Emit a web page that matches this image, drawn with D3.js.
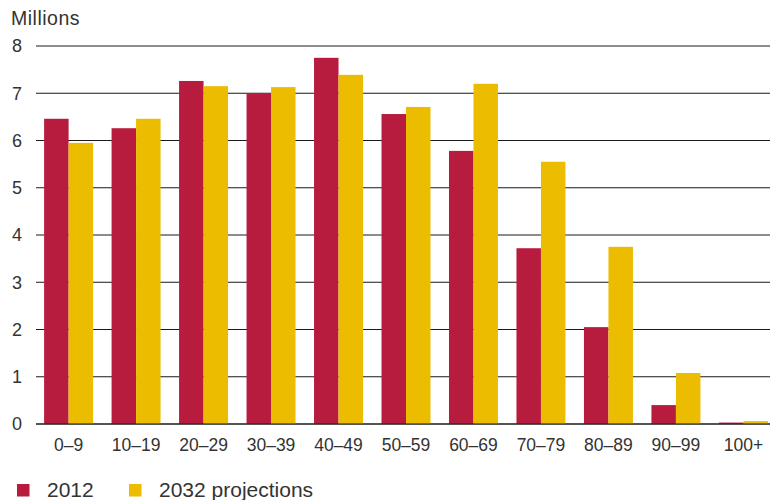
<!DOCTYPE html>
<html><head><meta charset="utf-8">
<script src="https://cdn.jsdelivr.net/npm/d3@7"></script>
<style>
body{margin:0;background:#fff;}
svg{display:block;}
text{font-family:"Liberation Sans",Arial,Helvetica,sans-serif;fill:#333;}
</style></head>
<body>
<svg id="chart" width="770" height="500"></svg>
<script>
const categories = ["0–9","10–19","20–29","30–39","40–49","50–59","60–69","70–79","80–89","90–99","100+"];
const values2012 = [6.46,6.26,7.26,7.0,7.75,6.56,5.78,3.72,2.05,0.40,0.03];
const values2032 = [5.95,6.46,7.15,7.13,7.39,6.71,7.2,5.55,3.75,1.08,0.06];
const seriesNames = ["2012","2032 projections"];
const seriesColors = ["#b71c3f","#ebbc00"];
const yTicks = [0,1,2,3,4,5,6,7,8];

const svg = d3.select("#chart");
const y = d3.scaleLinear().domain([0,8]).range([424,46]);
const x = d3.scaleBand().domain(categories).range([36,776]).paddingInner(0.274).paddingOuter(0.12);
const inner = d3.scaleBand().domain([0,1]).range([0,x.bandwidth()]);

// gridlines
svg.append("g").selectAll("line").data(yTicks).join("line")
  .attr("x1",36).attr("x2",770)
  .attr("y1",d=>y(d)).attr("y2",d=>y(d))
  .attr("stroke","#1a1a1a").attr("stroke-width",1);

// y labels
svg.append("g").selectAll("text").data(yTicks).join("text")
  .attr("x",22).attr("y",d=>y(d)).attr("dy","0.35em")
  .attr("text-anchor","end").attr("font-size",18).text(d=>d);

svg.append("text").attr("x",11).attr("y",25).attr("font-size",19.5)
  .attr("letter-spacing",0.5).text("Millions");

// bars
const series = [values2012, values2032];
series.forEach((vals,si)=>{
  svg.append("g").selectAll("rect").data(categories).join("rect")
    .attr("x",c=>x(c)+inner(si))
    .attr("width",inner.bandwidth())
    .attr("y",(c,i)=>y(vals[i]))
    .attr("height",(c,i)=>y(0)-y(vals[i]))
    .attr("fill",seriesColors[si]);
});

// baseline redraw
svg.append("line").attr("x1",36).attr("x2",770).attr("y1",y(0)).attr("y2",y(0)).attr("stroke","#1a1a1a");

// x labels
svg.append("g").selectAll("text").data(categories).join("text")
  .attr("x",c=>x(c)+x.bandwidth()/2).attr("y",451)
  .attr("text-anchor","middle").attr("font-size",17.5).text(c=>c);

// legend
const legX = [17,129];
seriesNames.forEach((n,i)=>{
  svg.append("rect").attr("x",legX[i]).attr("y",484).attr("width",12.5).attr("height",12.5).attr("fill",seriesColors[i]);
  svg.append("text").attr("x",legX[i]+30).attr("y",497).attr("font-size",21).text(n);
});
</script>
</body></html>
